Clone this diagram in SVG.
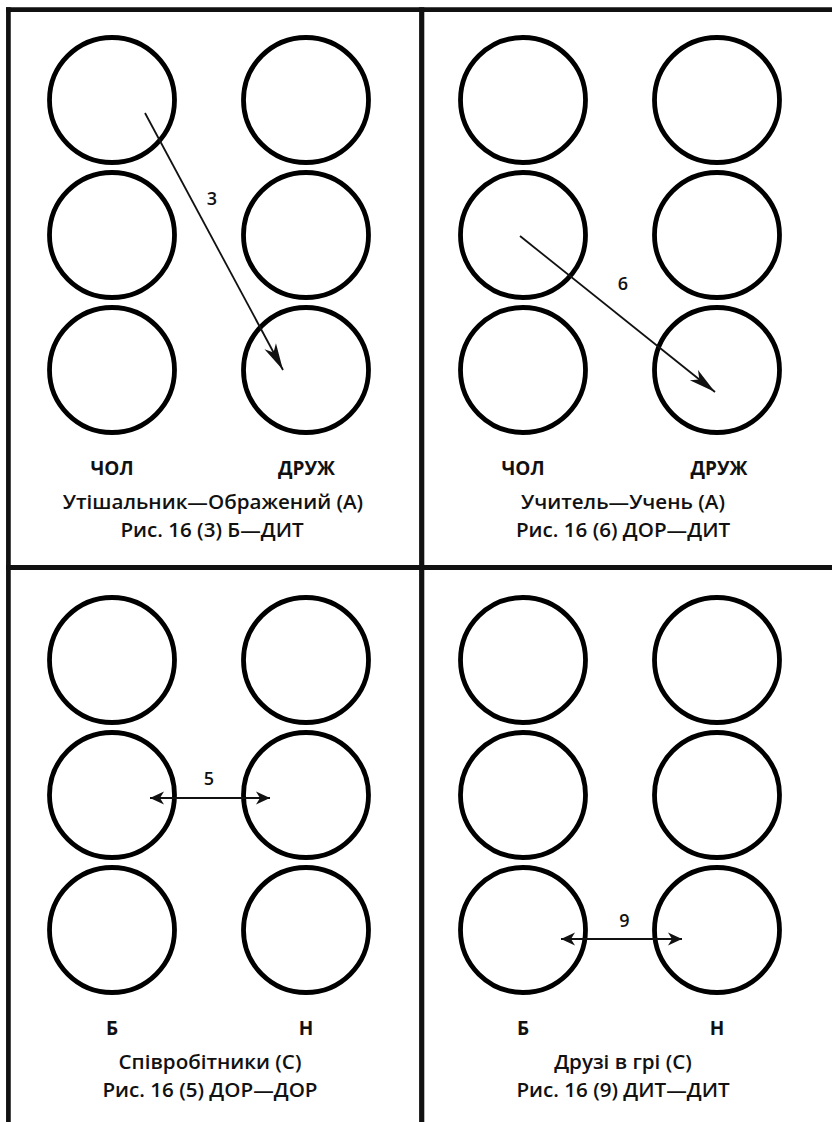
<svg xmlns="http://www.w3.org/2000/svg" width="832" height="1122" viewBox="0 0 832 1122">
  <style>
    .frame { stroke: #111; fill: none; }
    .node circle { fill: #fff; stroke: #000; stroke-width: 4.8; }
    .conn { stroke: #111; stroke-width: 1.8; fill: none; }
    .lbl { font-family: "Open Sans", "Liberation Sans", sans-serif; font-weight: 700; font-size: 19px; fill: #111; text-anchor: middle; }
    .cap { font-family: "Open Sans", "Liberation Sans", sans-serif; font-weight: 600; font-size: 20.6px; fill: #111; text-anchor: middle; }
    .num { font-family: "Open Sans", "Liberation Sans", sans-serif; font-weight: 600; font-size: 18px; fill: #111; text-anchor: middle; }
  </style>
  <defs>
    <!-- long barbed head for the diagonal arrows -->
    <marker id="barb-long" markerUnits="userSpaceOnUse" viewBox="-29 -8 31 16" refX="0" refY="0" markerWidth="31" markerHeight="16" orient="auto">
      <path d="M0,0 L-27,-6.5 L-20,0 L-27,6.5 Z" fill="#111"/>
    </marker>
    <!-- short barbed head for the two-way arrows -->
    <marker id="barb-short" markerUnits="userSpaceOnUse" viewBox="-16 -8 18 16" refX="0" refY="0" markerWidth="18" markerHeight="16" orient="auto-start-reverse">
      <path d="M0,0 L-14,-6.5 L-10,0 L-14,6.5 Z" fill="#111"/>
    </marker>
  </defs>

  <rect width="832" height="1122" fill="#fff"/>

  <!-- frame lines -->
  <g id="frame" class="frame">
    <line x1="6" y1="9.6" x2="832" y2="9.6" stroke-width="4.8"/>
    <line x1="8.4" y1="7.2" x2="8.4" y2="1122" stroke-width="4.7"/>
    <line x1="421.7" y1="7.2" x2="421.7" y2="1122" stroke-width="5.2"/>
    <line x1="6" y1="567.5" x2="832" y2="567.5" stroke-width="5"/>
  </g>

  <!-- panel 1 -->
  <g id="p1-nodes" class="node">
    <circle cx="112" cy="100" r="62.5"/>
    <circle cx="306" cy="100" r="62.5"/>
    <circle cx="112" cy="235" r="62.5"/>
    <circle cx="306" cy="235" r="62.5"/>
    <circle cx="112" cy="370" r="62.5"/>
    <circle cx="306" cy="370" r="62.5"/>
  </g>
  <!-- panel 2 -->
  <g id="p2-nodes" class="node">
    <circle cx="523" cy="100" r="62.5"/>
    <circle cx="717" cy="100" r="62.5"/>
    <circle cx="523" cy="235" r="62.5"/>
    <circle cx="717" cy="235" r="62.5"/>
    <circle cx="523" cy="370" r="62.5"/>
    <circle cx="717" cy="370" r="62.5"/>
  </g>
  <!-- panel 3 -->
  <g id="p3-nodes" class="node">
    <circle cx="112" cy="660" r="62.5"/>
    <circle cx="306" cy="660" r="62.5"/>
    <circle cx="112" cy="795" r="62.5"/>
    <circle cx="306" cy="795" r="62.5"/>
    <circle cx="112" cy="930" r="62.5"/>
    <circle cx="306" cy="930" r="62.5"/>
  </g>
  <!-- panel 4 -->
  <g id="p4-nodes" class="node">
    <circle cx="523" cy="660" r="62.5"/>
    <circle cx="717" cy="660" r="62.5"/>
    <circle cx="523" cy="795" r="62.5"/>
    <circle cx="717" cy="795" r="62.5"/>
    <circle cx="523" cy="930" r="62.5"/>
    <circle cx="717" cy="930" r="62.5"/>
  </g>

  <!-- connectors -->
  <g id="connectors" class="conn">
    <line x1="145" y1="113" x2="283" y2="370" marker-end="url(#barb-long)"/>
    <line x1="520" y1="236" x2="715" y2="392" marker-end="url(#barb-long)"/>
    <line x1="150" y1="798" x2="270" y2="798" marker-start="url(#barb-short)" marker-end="url(#barb-short)"/>
    <line x1="561" y1="939" x2="682" y2="939" marker-start="url(#barb-short)" marker-end="url(#barb-short)"/>
  </g>

  <g id="numbers">
    <text class="num" x="212" y="205">3</text>
    <text class="num" x="623" y="290">6</text>
    <text class="num" x="209" y="785">5</text>
    <text class="num" x="624.5" y="927">9</text>
  </g>

  <g id="labels">
    <text class="lbl" x="112" y="475">ЧОЛ</text>
    <text class="lbl" x="306.5" y="475">ДРУЖ</text>
    <text class="cap" x="213" y="509">Утішальник—Ображений (А)</text>
    <text class="cap" x="212" y="537">Рис. 16 (3) Б—ДИТ</text>

    <text class="lbl" x="523" y="475">ЧОЛ</text>
    <text class="lbl" x="719" y="475">ДРУЖ</text>
    <text class="cap" x="623" y="509">Учитель—Учень (А)</text>
    <text class="cap" x="623" y="537">Рис. 16 (6) ДОР—ДИТ</text>

    <text class="lbl" x="112" y="1035">Б</text>
    <text class="lbl" x="306" y="1035">Н</text>
    <text class="cap" x="210" y="1069">Співробітники (С)</text>
    <text class="cap" x="210" y="1097">Рис. 16 (5) ДОР—ДОР</text>

    <text class="lbl" x="523" y="1035">Б</text>
    <text class="lbl" x="717" y="1035">Н</text>
    <text class="cap" x="623" y="1069">Друзі в грі (С)</text>
    <text class="cap" x="623" y="1097">Рис. 16 (9) ДИТ—ДИТ</text>
  </g>
</svg>
